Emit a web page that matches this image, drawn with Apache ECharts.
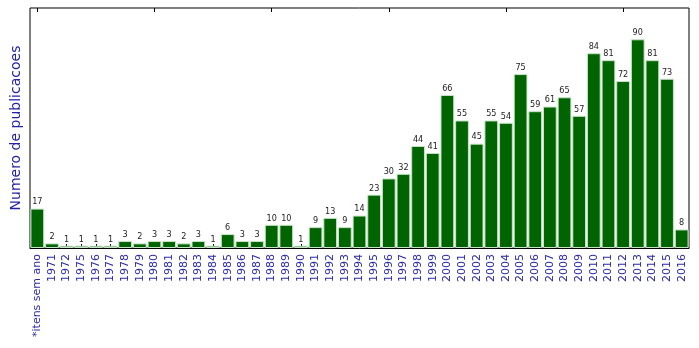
<!DOCTYPE html>
<html><head><meta charset="utf-8">
<script src="https://cdn.jsdelivr.net/npm/echarts@6/dist/echarts.min.js"></script>
<style>html,body{margin:0;padding:0;background:#fff}#c{width:699px;height:348px}</style>
</head><body><div id="c"></div>
<script>
const categories = ["*itens sem ano","1971","1972","1975","1976","1977","1978","1979","1980","1981","1982","1983","1984","1985","1986","1987","1988","1989","1990","1991","1992","1993","1994","1995","1996","1997","1998","1999","2000","2001","2002","2003","2004","2005","2006","2007","2008","2009","2010","2011","2012","2013","2014","2015","2016"];
const counts = [17,2,1,1,1,1,3,2,3,3,2,3,1,6,3,3,10,10,1,9,13,9,14,23,30,32,44,41,66,55,45,55,54,75,59,61,65,57,84,81,72,90,81,73,8];
const yAxisTitle = "Numero de publicacoes";

const chart = echarts.init(document.getElementById('c'), null, {renderer:'canvas'});
chart.setOption({
  animation:false,
  grid:{left:30,right:10,top:8,bottom:100,containLabel:false,outerBoundsMode:'none',show:true,borderColor:'#000',borderWidth:1,backgroundColor:'transparent'},
  xAxis:[{
    type:'category',data:categories,
    axisLine:{show:true,lineStyle:{color:'#000',width:1}},
    axisTick:{show:true,inside:true,length:4,alignWithLabel:true,lineStyle:{color:'#000'}},
    axisLabel:{rotate:90,interval:0,color:'#2a2aa8',fontFamily:'DejaVu Sans',fontSize:11,margin:6}
  },{
    type:'category',data:categories,position:'top',
    axisLine:{show:false},
    axisTick:{show:true,inside:true,length:4,alignWithLabel:true,lineStyle:{color:'#000'}},
    axisLabel:{show:false}
  }],
  yAxis:{type:'value',min:0,max:103.5,
    name:yAxisTitle,nameLocation:'middle',nameGap:7,
    nameTextStyle:{color:'#2222aa',fontFamily:'DejaVu Sans',fontSize:14},
    axisLine:{show:false},axisTick:{show:false},axisLabel:{show:false},splitLine:{show:false}},
  series:[{
    type:'bar',data:counts,barCategoryGap:'6%',
    itemStyle:{color:'#006400',borderColor:'#c8e4c8',borderWidth:1},
    label:{show:true,position:'top',distance:2,color:'#222',fontFamily:'DejaVu Sans Condensed',fontSize:9}
  }]
});
</script></body></html>
